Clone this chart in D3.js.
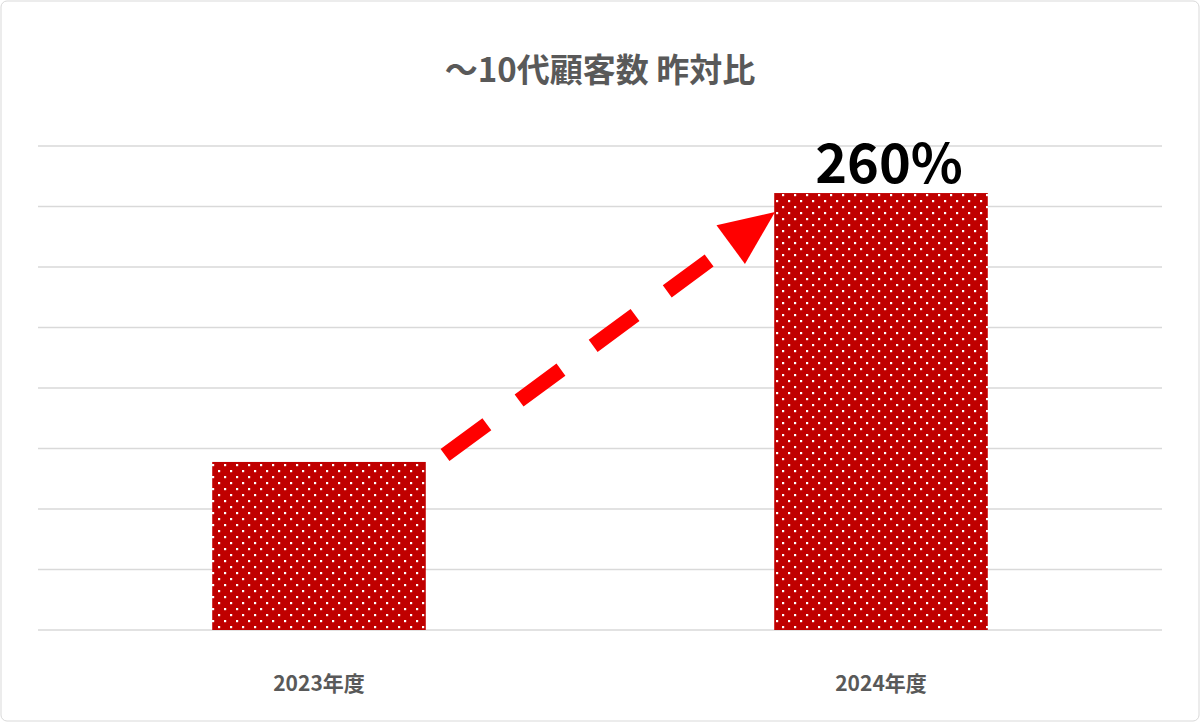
<!DOCTYPE html><html><head><meta charset="utf-8"><script src="https://cdn.jsdelivr.net/npm/d3@7"></script>
<style>body{margin:0;background:#fff}</style></head><body><script>
const categories=["2023年度","2024年度"];
const values=[100,260];
const yTicks=[0,36,72,108,144,180,216,252,288];
const title="～10代顧客数 昨対比";
const ratioLabel="260%";
const W=1200,H=722,m={l:38,r:38,t:146,b:92};
const svg=d3.select("body").append("svg").attr("width",W).attr("height",H);
const defs=svg.append("defs");
const p=defs.append("pattern").attr("id","dots").attr("width",12).attr("height",12).attr("patternUnits","userSpaceOnUse");
p.append("rect").attr("width",12).attr("height",12).attr("fill","#c00000");
[[2,2],[8,8]].forEach(([x,y])=>p.append("rect").attr("x",x).attr("y",y).attr("width",2.2).attr("height",2.2).attr("fill","#fff"));
svg.append("rect").attr("x",1).attr("y",1).attr("width",W-2).attr("height",H-2).attr("rx",6).attr("fill","#fff").attr("stroke","#d9d9d9");
const x=d3.scaleBand().domain(categories).range([m.l,W-m.r]).paddingInner(0.62).paddingOuter(0.31);
const y=d3.scaleLinear().domain([0,288]).range([H-m.b,m.t]);
svg.append("g").selectAll("line").data(yTicks).join("line").attr("x1",m.l).attr("x2",W-m.r).attr("y1",d=>y(d)).attr("y2",d=>y(d)).attr("stroke","#d9d9d9").attr("stroke-width",1.5);
svg.append("g").selectAll("rect").data(values).join("rect").attr("x",(d,i)=>x(categories[i])).attr("width",x.bandwidth()).attr("y",d=>y(d)).attr("height",d=>y(0)-y(d)).attr("fill","url(#dots)");
svg.append("g").selectAll("text").data(categories).join("text").attr("x",d=>x(d)+x.bandwidth()/2).attr("y",H-m.b+61).attr("text-anchor","middle").attr("font-family","Noto Sans CJK JP").attr("font-weight","bold").attr("font-size",21).attr("fill","#595959").text(d=>d);
svg.append("text").attr("x",W/2).attr("y",82).attr("text-anchor","middle").attr("font-family","Noto Sans CJK JP").attr("font-weight","bold").attr("font-size",33).attr("fill","#595959").text(title);
svg.append("text").attr("x",x(categories[1])+x.bandwidth()/2+8).attr("y",y(values[1])-10).attr("text-anchor","middle").attr("font-family","Noto Sans CJK JP").attr("font-weight","bold").attr("font-size",54).attr("fill","#000").text(ratioLabel);
// arrow
const x0=445,y0=455,x1=775,y1=212;
const ang=Math.atan2(y1-y0,x1-x0),len=Math.hypot(x1-x0,y1-y0);
const g=svg.append("g").attr("transform",`translate(${x0},${y0}) rotate(${ang*180/Math.PI})`);
g.append("line").attr("x1",0).attr("x2",len-40).attr("y1",0).attr("y2",0).attr("stroke","#ff0000").attr("stroke-width",15).attr("stroke-dasharray","52,40");
g.append("path").attr("d",`M${len},0 L${len-55},-24 L${len-55},24 Z`).attr("fill","#ff0000");
</script></body></html>
